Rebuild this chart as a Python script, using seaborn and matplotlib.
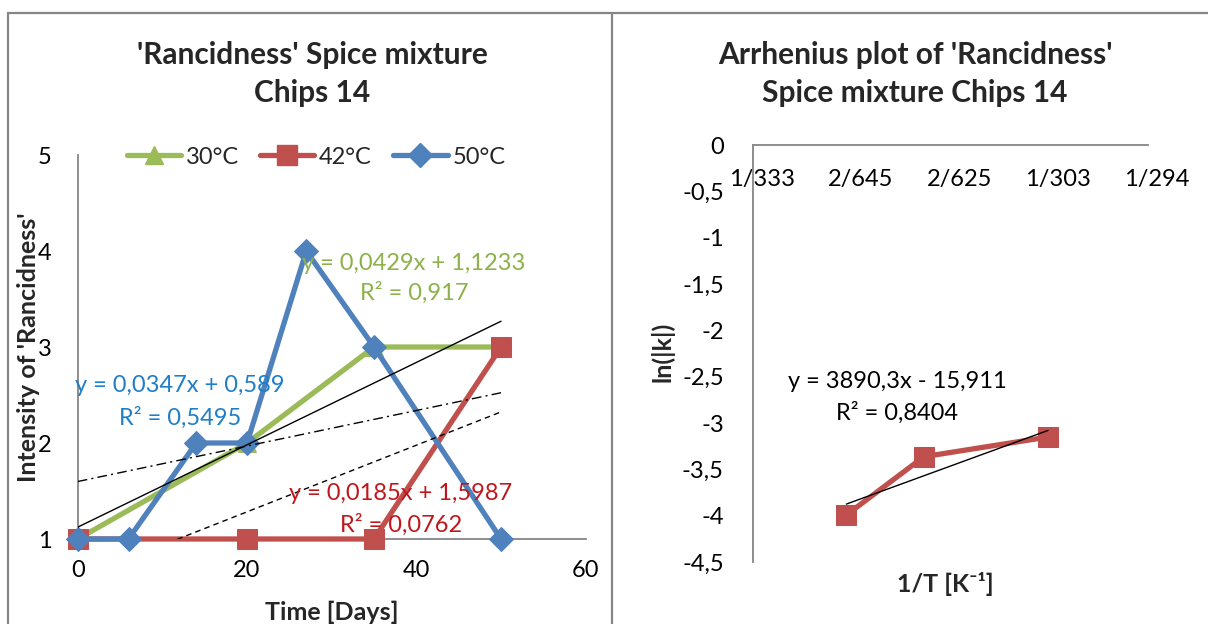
import numpy as np
import pandas as pd
import matplotlib
matplotlib.use("Agg")
import matplotlib.pyplot as plt
import matplotlib.transforms as mtransforms
from matplotlib.lines import Line2D
import seaborn as sns

# ---------------- data ----------------
days_30 = [0, 20, 35, 50]
vals_30 = [1, 2, 3, 3]
days_42 = [0, 20, 35, 50]
vals_42 = [1, 1, 1, 3]
days_50 = [0, 6, 14, 20, 27, 35, 50]
vals_50 = [1, 1, 2, 2, 4, 3, 1]
series_labels = ["30°C", "42°C", "50°C"]

# trendlines (slope, intercept) as printed
trend_solid = (0.0429, 1.1233)
trend_dashed = (0.0347, 0.589)
trend_dashdot = (0.0185, 1.5987)
eq_green = ["y = 0,0429x + 1,1233", "R² = 0,917"]
eq_blue = ["y = 0,0347x + 0,589", "R² = 0,5495"]
eq_red = ["y = 0,0185x + 1,5987", "R² = 0,0762"]

left_xticks = [0, 20, 40, 60]
left_yticks = [1, 2, 3, 4, 5]

# Arrhenius data
temps_K = [323.15, 315.15, 303.15]
ln_k = [-3.990, -3.361, -3.149]
arr_slope, arr_icpt = 3890.3, -15.911
eq_arr = ["y = 3890,3x - 15,911", "R² = 0,8404"]
right_xticks = [0.0030, 0.0031, 0.0032, 0.0033, 0.0034]
right_xticklabels = ["1/333", "2/645", "2/625", "1/303", "1/294"]
right_yticks = [0, -0.5, -1, -1.5, -2, -2.5, -3, -3.5, -4, -4.5]
right_yticklabels = ["0", "-0,5", "-1", "-1,5", "-2", "-2,5", "-3", "-3,5", "-4", "-4,5"]

# ---------------- style ----------------
sns.set_style("white")
plt.rcParams["font.family"] = ["Lato", "DejaVu Sans"]

GREEN = "#9BBB59"
RED = "#C0504D"
BLUE = "#4F81BD"
AXC = "#868686"
TXT_GREEN = "#8DB14B"
TXT_BLUE = "#1E7EC8"
TXT_RED = "#C0161B"

W, H = 1208, 624
fig = plt.figure(figsize=(W / 100, H / 100), dpi=100)
fig.patch.set_facecolor("white")


def fx(px):
    return px / W


def fy(py):
    return 1 - py / H


TICK_FS = 17
EQ_FS = 17
TITLE_FS = 21.5
LAB_FS = 18

# ---------------- borders ----------------
for (x0, x1) in [(8, 612), (612, 1215)]:
    fig.add_artist(Line2D([fx(x0), fx(x0)], [fy(13), fy(640)], color=AXC, lw=1.6, transform=fig.transFigure))
    fig.add_artist(Line2D([fx(x0), fx(x1)], [fy(13), fy(13)], color=AXC, lw=1.6, transform=fig.transFigure))

# ---------------- left chart ----------------
axL = fig.add_axes([fx(77.7), fy(539), fx(585.7) - fx(77.7), fy(155) - fy(539)])
axL.set_facecolor("none")

xx = np.array([0, 50])
axL.plot(xx, trend_solid[0] * xx + trend_solid[1], color="black", lw=1.0, zorder=4)
axL.plot(xx, trend_dashed[0] * xx + trend_dashed[1], color="black", lw=1.0, ls=(0, (4, 3)), zorder=4)
axL.plot(xx, trend_dashdot[0] * xx + trend_dashdot[1], color="black", lw=1.0, ls=(0, (7, 3, 1.5, 3)), zorder=4)

df30 = pd.DataFrame({"x": days_30, "y": vals_30})
df42 = pd.DataFrame({"x": days_42, "y": vals_42})
df50 = pd.DataFrame({"x": days_50, "y": vals_50})
sns.lineplot(data=df30, x="x", y="y", ax=axL, color=GREEN, lw=3.8, marker="^", markersize=13,
             markeredgecolor=GREEN, sort=False, zorder=3, clip_on=False)
sns.lineplot(data=df42, x="x", y="y", ax=axL, color=RED, lw=3.8, marker="s", markersize=14,
             markeredgecolor=RED, sort=False, zorder=3, clip_on=False)
sns.lineplot(data=df50, x="x", y="y", ax=axL, color=BLUE, lw=3.8, marker="D", markersize=12,
             markeredgecolor=BLUE, sort=False, zorder=3, clip_on=False)

axL.set_xlim(0, 60)
axL.set_ylim(1, 5)
axL.set_xticks(left_xticks)
axL.set_yticks(left_yticks)
axL.set_xlabel("")
axL.set_ylabel("")
for s in ["top", "right"]:
    axL.spines[s].set_visible(False)
for s in ["left", "bottom"]:
    axL.spines[s].set_color(AXC)
    axL.spines[s].set_linewidth(1.3)
axL.tick_params(axis="both", direction="out", length=7, width=1.3, color=AXC,
                labelsize=TICK_FS, labelcolor="black", pad=8)
axL.tick_params(axis="y", pad=12)

# legend
handles = [
    Line2D([], [], color=GREEN, lw=3.8, marker="^", markersize=13, markeredgecolor=GREEN),
    Line2D([], [], color=RED, lw=3.8, marker="s", markersize=14, markeredgecolor=RED),
    Line2D([], [], color=BLUE, lw=3.8, marker="D", markersize=12, markeredgecolor=BLUE),
]
fig.legend(handles, series_labels, loc="center", bbox_to_anchor=(fx(316), fy(157)),
           ncol=3, frameon=False, fontsize=TICK_FS, handlelength=2.3, handletextpad=0.2,
           columnspacing=0.9, borderpad=0)

# equations
fig.text(fx(414), fy(263), eq_green[0], color=TXT_GREEN, fontsize=EQ_FS, ha="center", va="center")
fig.text(fx(414), fy(293), eq_green[1], color=TXT_GREEN, fontsize=EQ_FS, ha="center", va="center")
fig.text(fx(180), fy(386), eq_blue[0], color=TXT_BLUE, fontsize=EQ_FS, ha="center", va="center")
fig.text(fx(180), fy(418), eq_blue[1], color=TXT_BLUE, fontsize=EQ_FS, ha="center", va="center")
fig.text(fx(401), fy(493), eq_red[0], color=TXT_RED, fontsize=EQ_FS, ha="center", va="center")
fig.text(fx(401), fy(525), eq_red[1], color=TXT_RED, fontsize=EQ_FS, ha="center", va="center")

fig.text(fx(312), fy(55), "'Rancidness' Spice mixture", fontsize=TITLE_FS, fontweight="bold", ha="center", va="center")
fig.text(fx(312), fy(93), "Chips 14", fontsize=TITLE_FS, fontweight="bold", ha="center", va="center")
fig.text(fx(332), fy(612), "Time [Days]", fontsize=LAB_FS, fontweight="bold", ha="center", va="center")
fig.text(fx(29), fy(347), "Intensity of 'Rancidness'", fontsize=LAB_FS, fontweight="bold", ha="center",
         va="center", rotation=90)

# ---------------- right chart ----------------
axR = fig.add_axes([fx(753), fy(562.3), fx(1148) - fx(753), fy(145) - fy(562.3)])
axR.set_facecolor("none")
inv_T = [1.0 / t for t in temps_K]
dfA = pd.DataFrame({"x": inv_T, "y": ln_k})
tx = np.array([min(inv_T), max(inv_T)])
axR.plot(tx, arr_slope * tx + arr_icpt, color="black", lw=1.0, zorder=4)
sns.lineplot(data=dfA, x="x", y="y", ax=axR, color=RED, lw=3.8, marker="s", markersize=14,
             markeredgecolor=RED, sort=False, zorder=3)

axR.set_xlim(0.0030, 0.0034)
axR.set_ylim(-4.5, 0)
axR.set_xticks(right_xticks)
axR.set_xticklabels(right_xticklabels)
axR.set_yticks(right_yticks)
axR.set_yticklabels(right_yticklabels)
axR.set_xlabel("")
axR.set_ylabel("")
axR.spines["top"].set_visible(False)
axR.spines["right"].set_visible(False)
axR.spines["bottom"].set_position(("data", 0))
for s in ["left", "bottom"]:
    axR.spines[s].set_color(AXC)
    axR.spines[s].set_linewidth(1.3)
axR.tick_params(axis="both", direction="out", length=7, width=1.3, color=AXC,
                labelsize=TICK_FS, labelcolor="black")
axR.tick_params(axis="x", pad=10)
axR.tick_params(axis="y", pad=14)
shift = mtransforms.ScaledTranslation(0.09, 0, fig.dpi_scale_trans)
for lab in axR.get_xticklabels():
    lab.set_transform(lab.get_transform() + shift)

fig.text(fx(897), fy(381), eq_arr[0], color="black", fontsize=EQ_FS, ha="center", va="center")
fig.text(fx(897), fy(413), eq_arr[1], color="black", fontsize=EQ_FS, ha="center", va="center")

fig.text(fx(915), fy(55), "Arrhenius plot of 'Rancidness'", fontsize=TITLE_FS, fontweight="bold", ha="center", va="center")
fig.text(fx(915), fy(93), "Spice mixture Chips 14", fontsize=TITLE_FS, fontweight="bold", ha="center", va="center")
fig.text(fx(945), fy(584), "1/T [K⁻¹]", fontsize=LAB_FS, fontweight="bold", ha="center", va="center")
fig.text(fx(662), fy(352), "ln(|k|)", fontsize=LAB_FS, fontweight="bold", ha="center", va="center", rotation=90)

fig.savefig("out.png", dpi=100, facecolor="white")
